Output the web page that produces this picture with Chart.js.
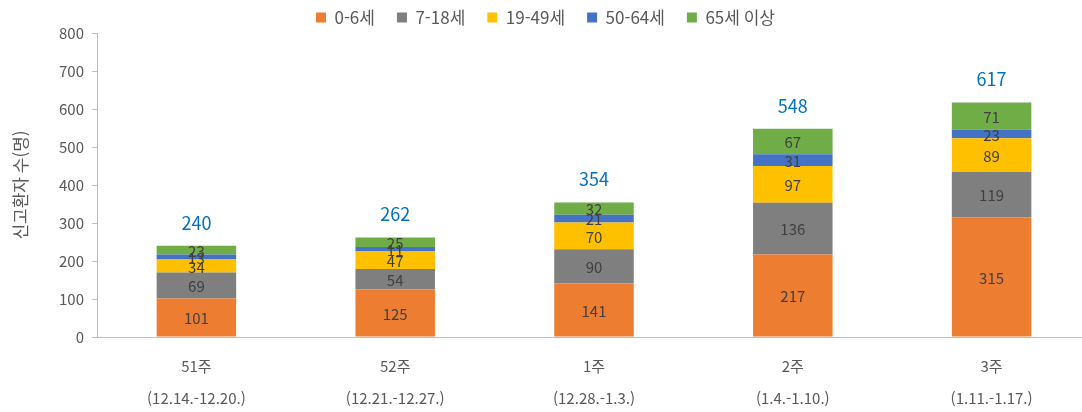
<!DOCTYPE html>
<html lang="ko">
<head>
    <meta charset="UTF-8">
    <title>신고환자 수</title>
    <script src="https://cdn.jsdelivr.net/npm/chart.js"></script>
    <style>
        html, body { margin: 0; padding: 0; background: #fff; overflow: hidden; }
        #wrap { width: 1092px; height: 412px; }
    </style>
</head>
<body>
    <div id="wrap"><canvas id="chart"></canvas></div>
    <script>
        // data
        const weeks = ['51주', '52주', '1주', '2주', '3주'];
        const periods = ['(12.14.-12.20.)', '(12.21.-12.27.)', '(12.28.-1.3.)', '(1.4.-1.10.)', '(1.11.-1.17.)'];
        const age0to6 = [101, 125, 141, 217, 315];
        const age7to18 = [69, 54, 90, 136, 119];
        const age19to49 = [34, 47, 70, 97, 89];
        const age50to64 = [13, 11, 21, 31, 23];
        const age65plus = [23, 25, 32, 67, 71];
        const totals = [240, 262, 354, 548, 617];
        const yTicks = [0, 100, 200, 300, 400, 500, 600, 700, 800];

        const font = '"Noto Sans CJK KR", "Noto Sans", sans-serif';

        // numbers inside the segments and totals above each bar
        const valueLabels = {
            id: 'valueLabels',
            afterInit(chart) {
                // wide spacing between legend items but a short legend box
                const fit = chart.legend.fit;
                chart.legend.fit = function () {
                    fit.call(this);
                    this.height = 46;
                };
            },
            afterDatasetsDraw(chart) {
                const ctx = chart.ctx;
                ctx.save();
                ctx.textAlign = 'center';
                ctx.textBaseline = 'middle';
                ctx.font = '15px ' + font;
                ctx.fillStyle = '#404040';
                chart.data.datasets.forEach((ds, i) => {
                    chart.getDatasetMeta(i).data.forEach((bar, j) => {
                        ctx.fillText(ds.data[j], bar.x, (bar.y + bar.base) / 2 + 1);
                    });
                });
                const last = chart.getDatasetMeta(chart.data.datasets.length - 1);
                ctx.font = '18px ' + font;
                ctx.fillStyle = '#0070C0';
                last.data.forEach((bar, j) => {
                    ctx.fillText(totals[j], bar.x, bar.y - 23);
                });
                ctx.restore();
            }
        };

        const ds = (label, data, color) => ({
            label: label,
            data: data,
            backgroundColor: color,
            borderWidth: 0,
            categoryPercentage: 1,
            barPercentage: 0.4
        });

        new Chart(document.getElementById('chart'), {
            type: 'bar',
            data: {
                labels: weeks.map((w, i) => [w, periods[i]]),
                datasets: [
                    ds('0-6세', age0to6, '#ED7D31'),
                    ds('7-18세', age7to18, '#7F7F7F'),
                    ds('19-49세', age19to49, '#FFC000'),
                    ds('50-64세', age50to64, '#4472C4'),
                    ds('65세 이상', age65plus, '#70AD47')
                ]
            },
            options: {
                responsive: true,
                maintainAspectRatio: false,
                animation: false,
                layout: { padding: { top: -13, right: 1, bottom: 0, left: 0 } },
                plugins: {
                    legend: {
                        position: 'top',
                        labels: {
                            boxWidth: 10,
                            boxHeight: 10,
                            padding: 22,
                            color: '#595959',
                            font: { family: font, size: 17 }
                        }
                    },
                    tooltip: { enabled: false }
                },
                scales: {
                    x: {
                        stacked: true,
                        grid: { display: false },
                        border: { color: '#BFBFBF' },
                        ticks: {
                            color: '#595959',
                            padding: 6,
                            font: { family: font, size: 15, lineHeight: 2.1 },
                            maxRotation: 0
                        },
                        afterFit(scale) { scale.height = 75; }
                    },
                    y: {
                        stacked: true,
                        min: 0,
                        max: 800,
                        afterBuildTicks(scale) { scale.ticks = yTicks.map(v => ({ value: v })); },
                        grid: { drawOnChartArea: false, drawTicks: true, tickLength: 5, color: '#BFBFBF' },
                        border: { color: '#BFBFBF' },
                        ticks: {
                            color: '#595959',
                            padding: 8,
                            font: { family: font, size: 15 }
                        },
                        title: {
                            display: true,
                            text: '신고환자 수(명)',
                            color: '#595959',
                            font: { family: font, size: 17 },
                            padding: { top: 10, bottom: 0 }
                        },
                        afterFit(scale) { scale.width = 97; }
                    }
                }
            },
            plugins: [valueLabels]
        });
    </script>
</body>
</html>
